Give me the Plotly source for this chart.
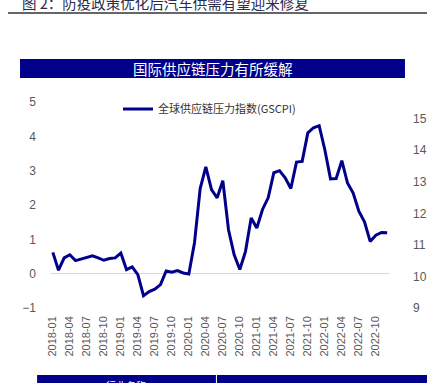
import plotly.graph_objects as go

months = [f"{y}-{m:02d}" for y in range(2018, 2023) for m in range(1, 13)]
gscpi = [0.62, 0.10, 0.46, 0.55, 0.38, 0.42, 0.48, 0.52, 0.46, 0.39, 0.44, 0.46,
         0.60, 0.12, 0.20, -0.03, -0.64, -0.52, -0.45, -0.32, 0.08, 0.04, 0.09, 0.02,
         -0.01, 0.90, 2.48, 3.11, 2.45, 2.21, 2.71, 1.28, 0.55, 0.12, 0.65, 1.62,
         1.33, 1.87, 2.21, 2.94, 3.00, 2.79, 2.48, 3.25, 3.27, 4.10, 4.25, 4.31,
         3.61, 2.76, 2.77, 3.29, 2.64, 2.35, 1.82, 1.51, 0.94, 1.12, 1.20, 1.19]
tick_labels = months[::3]
left_ticks = [-1, 0, 1, 2, 3, 4, 5]
right_ticks = [9, 10, 11, 12, 13, 14, 15]

series_name = "全球供应链压力指数(GSCPI)"
chart_title = "国际供应链压力有所缓解"
fig_title = "图 2：防疫政策优化后汽车供需有望迎来修复"
footer_left = "行业名称"

NAVY = "#00008B"
CJK = "Noto Sans CJK SC"

fig = go.Figure()
fig.add_trace(go.Scatter(x=months, y=gscpi, mode="lines", name=series_name,
                         line=dict(color=NAVY, width=3)))
fig.add_trace(go.Scatter(x=months, y=[None] * len(months), yaxis="y2",
                         mode="lines", showlegend=False, hoverinfo="skip"))

fig.update_layout(
    width=427, height=383,
    margin=dict(l=50, r=37, t=102, b=75, autoexpand=False),
    paper_bgcolor="white", plot_bgcolor="white",
    showlegend=True,
    legend=dict(x=0.2, y=0.966, xanchor="left", yanchor="middle",
                font=dict(family=CJK, size=11, color="#333333"),
                bgcolor="rgba(0,0,0,0)"),
    xaxis=dict(type="category", range=[-0.5, 59.5], tickmode="array",
               tickvals=tick_labels, ticktext=tick_labels, tickangle=-90,
               showgrid=False, zeroline=False, showline=False, ticks="",
               automargin=False,
               tickfont=dict(family="Arial, Liberation Sans", size=11, color="#595959"),
               ticklabelstandoff=5),
    yaxis=dict(range=[-1, 5], tickvals=left_ticks, showgrid=False,
               zeroline=True, zerolinecolor="#D9D9D9", zerolinewidth=1,
               showline=False, ticks="", automargin=False,
               tickfont=dict(family="Arial, Liberation Sans", size=12, color="#595959"),
               ticklabelstandoff=13),
    yaxis2=dict(range=[9, 15.53], tickvals=right_ticks, overlaying="y", side="right",
                showgrid=False, zeroline=False, showline=False, ticks="",
                automargin=False,
                tickfont=dict(family="Arial, Liberation Sans", size=12, color="#595959"),
                ticklabelstandoff=22),
    shapes=[
        dict(type="rect", xref="paper", yref="paper", x0=-0.0882, x1=1.044,
             y0=1.1165, y1=1.2087, fillcolor=NAVY, line=dict(width=0), layer="below"),
        dict(type="line", xref="paper", yref="paper", x0=-0.1235, x1=1.11,
             y0=1.432, y1=1.432, line=dict(color="#333333", width=1.5)),
        dict(type="rect", xref="paper", yref="paper", x0=-0.038, x1=0.488,
             y0=-0.42, y1=-0.325, fillcolor=NAVY, line=dict(width=0)),
        dict(type="rect", xref="paper", yref="paper", x0=0.491, x1=1.11,
             y0=-0.42, y1=-0.325, fillcolor=NAVY, line=dict(width=0)),
    ],
    annotations=[
        dict(text=chart_title, xref="paper", yref="paper", x=(213 - 50) / 340,
             y=(308 - 68.5) / 206, xanchor="center", yanchor="middle", showarrow=False,
             font=dict(family=CJK, size=14.5, color="white")),
        dict(text=fig_title, xref="paper", yref="paper", x=(20 - 50) / 340,
             y=(308 - 2) / 206, xanchor="left", yanchor="middle", showarrow=False,
             font=dict(family=CJK, size=14.5, color="#2B2B4B")),
        dict(text=footer_left, xref="paper", yref="paper", x=(126 - 50) / 340,
             y=(308 - 376) / 206, xanchor="center", yanchor="top", showarrow=False,
             font=dict(family=CJK, size=10, color="white")),
    ],
)

fig.write_html("out.html", config={"displayModeBar": False},
               post_script="document.body.style.margin='0';")
